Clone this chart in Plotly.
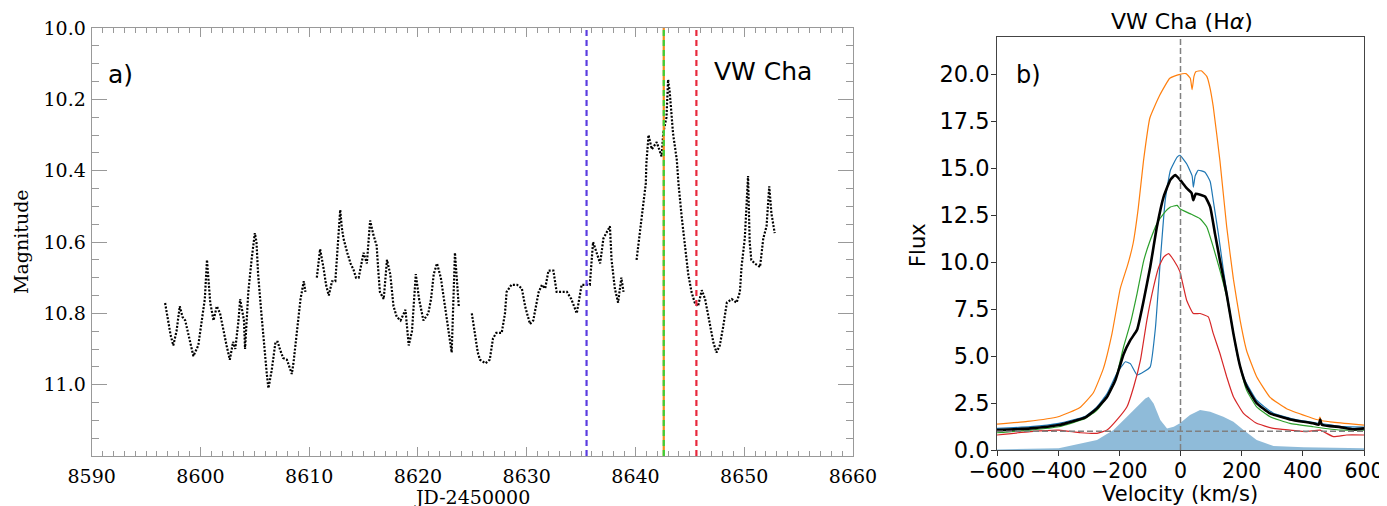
import plotly.graph_objects as go

# ---------------- Panel a) light curve (JD-2450000, magnitude); None = gap ----------------
jd = [8596.75, 8597.0, 8597.25, 8597.5, 8597.8, 8598.1, 8598.35, 8598.6, 8598.9, 8599.1,
      8599.35, 8599.8, 8600.1, 8600.4, 8600.6, 8600.75, 8600.9, 8601.2, 8601.5, 8601.8,
      8602.1, 8602.4, 8602.7, 8603.0, 8603.2, 8603.5, 8603.65, 8603.8, 8604.0, 8604.1,
      8604.25, 8604.4, 8604.7, 8605.0, 8605.15, 8605.3, 8605.6, 8605.95, 8606.1, 8606.25,
      8606.55, 8606.9, 8607.1, 8607.3, 8607.6, 8607.95, 8608.2, 8608.4, 8608.55, 8608.9,
      8609.2, 8609.5, 8609.65, None,
      8610.7, 8611.0, 8611.3, 8611.55, 8611.8, 8612.1, 8612.4, 8612.7, 8612.85, 8613.0,
      8613.15, 8613.5, 8613.8, 8614.1, 8614.3, 8614.55, 8614.8, 8615.0, 8615.3, 8615.6,
      8615.9, 8616.2, 8616.35, 8616.5, 8616.85, 8617.15, 8617.45, 8617.75, 8618.05, 8618.4,
      8618.85, 8619.15, 8619.45, 8619.8, 8620.1, 8620.5, 8620.95, 8621.2, 8621.45, 8621.75,
      8622.1, 8622.5, 8622.8, 8623.1, 8623.4, 8623.6, 8623.75, None,
      8624.95, 8625.25, 8625.5, 8625.7, 8626.2, 8626.6, 8626.9, 8627.2, 8627.7, 8628.0,
      8628.15, 8628.6, 8629.1, 8629.55, 8629.85, 8630.3, 8630.6, 8631.1, 8631.4, 8631.7,
      8632.0, 8632.45, 8632.75, 8633.2, 8633.7, 8634.1, 8634.6, 8635.05, 8635.5, 8635.8,
      8636.1, 8636.4, 8636.75, 8637.05, 8637.5, 8637.65, 8637.8, 8638.1, 8638.4, 8638.7,
      8638.9, None,
      8640.1, 8640.4, 8640.7, 8640.95, 8641.0, 8641.2, 8641.5, 8641.95, 8642.4, 8642.55,
      8642.85, 8643.0, 8643.15, 8643.45, 8643.8, 8643.95, 8644.25, 8644.55, 8644.85, 8645.15,
      8645.45, 8645.75, 8646.1, 8646.4, 8646.85, 8647.15, 8647.45, 8647.75, 8648.05, 8648.4,
      8648.85, 8649.3, 8649.6, 8649.75, 8650.05, 8650.35, 8650.5, 8650.65, 8650.95, 8651.45,
      8651.75, 8652.05, 8652.3, 8652.5, 8652.8]
mag = [10.771, 10.82, 10.86, 10.89, 10.85, 10.78, 10.81, 10.82, 10.86, 10.89,
       10.92, 10.89, 10.83, 10.76, 10.65, 10.72, 10.77, 10.82, 10.78, 10.80,
       10.85, 10.89, 10.93, 10.88, 10.90, 10.82, 10.76, 10.79, 10.82, 10.90,
       10.82, 10.74, 10.65, 10.575, 10.60, 10.69, 10.80, 10.93, 10.97, 11.01,
       10.96, 10.88, 10.88, 10.90, 10.925, 10.93, 10.95, 10.97, 10.94, 10.85,
       10.76, 10.71, 10.74, None,
       10.70, 10.62, 10.67, 10.72, 10.75, 10.71, 10.71, 10.585, 10.51, 10.56,
       10.59, 10.63, 10.66, 10.68, 10.70, 10.70, 10.66, 10.63, 10.66, 10.54,
       10.58, 10.61, 10.68, 10.74, 10.76, 10.65, 10.69, 10.78, 10.81, 10.82,
       10.79, 10.89, 10.85, 10.69, 10.76, 10.82, 10.80, 10.76, 10.69, 10.66,
       10.70, 10.78, 10.85, 10.91, 10.63, 10.71, 10.78, None,
       10.80, 10.855, 10.91, 10.93, 10.94, 10.93, 10.87, 10.855, 10.855, 10.80,
       10.74, 10.72, 10.72, 10.73, 10.78, 10.83, 10.82, 10.74, 10.72, 10.73,
       10.68, 10.68, 10.74, 10.74, 10.74, 10.76, 10.80, 10.72, 10.72, 10.72,
       10.60, 10.63, 10.66, 10.59, 10.565, 10.556, 10.65, 10.73, 10.77, 10.70,
       10.74, None,
       10.65, 10.575, 10.50, 10.435, 10.38, 10.30, 10.34, 10.32, 10.36, 10.295,
       10.25, 10.145, 10.18, 10.295, 10.37, 10.435, 10.53, 10.61, 10.69, 10.74,
       10.77, 10.78, 10.735, 10.76, 10.83, 10.88, 10.91, 10.89, 10.84, 10.77,
       10.76, 10.77, 10.74, 10.67, 10.59, 10.415, 10.60, 10.65, 10.66, 10.67,
       10.59, 10.556, 10.444, 10.52, 10.575]

# epochs of the spectra (vertical dashed lines)
spec_dates = [8635.5, 8642.6, 8642.6, 8645.6]
spec_colors = ["#5a3de0", "#f08c1e", "#3ad13a", "#e8283c"]
spec_dash = ["6px,4px", "solid", "6px,4px", "6px,4px"]

x_ticks_a = [8590, 8600, 8610, 8620, 8630, 8640, 8650, 8660]
y_ticks_a = [10.0, 10.2, 10.4, 10.6, 10.8, 11.0]

# ---------------- Panel b) H-alpha profiles ----------------
v_orange = [-600, -500, -400, -330, -285, -252, -224, -197, -172, -155, -138, -121, -100, -68, -35, -5,
            18, 32, 38, 44, 50, 68, 86, 95, 107, 129, 151, 173, 195, 216, 249, 293, 347, 413, 452, 456, 460, 489, 565, 600]
f_orange = [1.38, 1.52, 1.77, 2.25, 3.05, 4.35, 6.2, 8.6, 9.9, 11.0, 12.9, 15.4, 17.7, 18.9, 19.8, 20.0,
            20.05, 19.8, 19.2, 19.9, 20.15, 20.2, 19.9, 19.4, 18.3, 15.4, 11.9, 9.1, 6.9, 5.3, 3.9, 2.8, 2.2, 1.8, 1.6, 1.75, 1.58, 1.5, 1.38, 1.33]

v_blue = [-600, -491, -398, -311, -273, -240, -208, -180, -164, -142, -120, -99, -82, -66, -50, -33, -11, -2,
          20, 38, 42, 48, 58, 80, 97, 107, 124, 140, 157, 173, 189, 211, 249, 304, 380, 456, 532, 600]
f_blue = [1.15, 1.24, 1.42, 1.8, 2.3, 3.0, 4.08, 4.7, 4.6, 4.0, 4.17, 4.43, 6.5, 10.1, 13.3, 14.9, 15.6, 15.7,
          15.25, 14.6, 14.0, 14.6, 14.9, 14.8, 14.3, 13.3, 11.5, 9.6, 7.8, 6.2, 4.8, 3.7, 2.65, 1.95, 1.6, 1.42, 1.24, 1.22]

v_green = [-600, -491, -398, -311, -273, -240, -213, -186, -164, -142, -120, -99, -77, -55, -33, -11, -2,
           31, 64, 86, 107, 129, 151, 173, 195, 216, 249, 293, 358, 434, 522, 600]
f_green = [0.92, 1.06, 1.24, 1.68, 2.13, 2.84, 3.72, 5.5, 6.74, 8.33, 10.1, 11.17, 12.06, 12.59, 12.94, 13.03, 12.85,
           12.59, 12.32, 11.88, 10.82, 9.57, 8.16, 6.21, 4.43, 3.19, 2.3, 1.77, 1.42, 1.24, 1.06, 1.06]

v_red = [-600, -491, -398, -327, -273, -240, -208, -175, -153, -131, -110, -88, -71, -55, -39, -22, -2,
         20, 42, 64, 91, 107, 129, 151, 173, 206, 249, 304, 358, 413, 456, 500, 543, 600]
f_red = [0.80, 0.98, 1.06, 0.92, 0.89, 1.06, 1.6, 2.3, 3.37, 4.79, 6.91, 8.69, 9.75, 10.28, 10.46, 10.11, 9.5,
         7.98, 7.27, 7.27, 7.09, 6.21, 5.14, 3.9, 2.84, 1.95, 1.42, 1.15, 1.06, 0.98, 1.06, 0.71, 0.8, 0.8]

v_black = [-600, -491, -398, -311, -273, -240, -213, -186, -164, -142, -120, -99, -77, -55, -33, -17, -2,
           20, 36, 42, 50, 80, 97, 113, 129, 151, 173, 195, 216, 249, 293, 358, 434, 452, 457, 462, 522, 565, 600]
f_black = [1.06, 1.15, 1.33, 1.74, 2.22, 2.84, 3.72, 5.1, 5.85, 6.4, 8.0, 9.75, 11.9, 13.5, 14.4, 14.65, 14.4,
           13.95, 13.7, 13.3, 13.65, 13.5, 12.95, 11.5, 10.1, 8.3, 6.2, 4.45, 3.4, 2.5, 1.95, 1.63, 1.42, 1.35, 1.62, 1.35, 1.22, 1.1, 1.15]

v_fill = [-600, -398, -273, -219, -175, -142, -115, -104, -88, -66, -44, -22, -2, 31, 64, 97, 140, 173, 206, 249, 304, 402, 600]
f_fill = [0.03, 0.09, 0.53, 1.06, 1.77, 2.3, 2.75, 2.84, 2.48, 1.6, 1.15, 1.24, 1.42, 1.86, 2.13, 2.04, 1.77, 1.51, 1.06, 0.53, 0.21, 0.14, 0.09]

x_ticks_b = [-600, -400, -200, 0, 200, 400, 600]
y_ticks_b = [0.0, 2.5, 5.0, 7.5, 10.0, 12.5, 15.0, 17.5, 20.0]
continuum_level = 1.0
rest_velocity = 0.0

W, H = 1387, 506
OFF = 8  # the page body adds an 8px margin; compensate so positions match the window
SERIF = "DejaVu Serif"
SANS = "DejaVu Sans"

fig = go.Figure()

# light curve drawn as a dense dotted trace
fig.add_trace(go.Scatter(x=jd, y=mag, mode="lines", connectgaps=False,
                         line=dict(color="black", width=2.2, dash="2px,1.6px"),
                         xaxis="x", yaxis="y", hoverinfo="skip"))

# spectra
fig.add_trace(go.Scatter(x=v_fill, y=f_fill, mode="lines", fill="tozeroy",
                         fillcolor="rgba(31,119,180,0.5)", line=dict(width=0, color="rgba(31,119,180,0.5)"),
                         xaxis="x2", yaxis="y2"))
for vv, ff, col, w in [(v_orange, f_orange, "#ff7f0e", 1.2),
                       (v_blue, f_blue, "#1f77b4", 1.2),
                       (v_green, f_green, "#2ca02c", 1.2),
                       (v_red, f_red, "#d62728", 1.2),
                       (v_black, f_black, "black", 2.6)]:
    fig.add_trace(go.Scatter(x=vv, y=ff, mode="lines",
                             line=dict(color=col, width=w, shape="spline", smoothing=0.4),
                             xaxis="x2", yaxis="y2"))

shapes = []
for d, c, ds in zip(spec_dates, spec_colors, spec_dash):
    shapes.append(dict(type="line", xref="x", yref="y domain", x0=d, x1=d, y0=0, y1=1,
                       line=dict(color=c, width=2.2, dash=ds), layer="above"))
shapes.append(dict(type="line", xref="x2", yref="y2 domain", x0=rest_velocity, x1=rest_velocity, y0=0, y1=1,
                   line=dict(color="#808080", width=1.5, dash="6px,3px"), layer="above"))
shapes.append(dict(type="line", xref="x2 domain", yref="y2", x0=0, x1=1, y0=continuum_level, y1=continuum_level,
                   line=dict(color="#808080", width=1.5, dash="6px,3px"), layer="above"))


def px(x):
    return (x - OFF) / W


def py(y):
    return 1 - (y - OFF) / H


annotations = [
    dict(text="JD-2450000", x=px(472), y=py(497), xref="paper", yref="paper", showarrow=False,
         font=dict(family=SERIF, size=19, color="black"), xanchor="center", yanchor="middle"),
    dict(text="Magnitude", x=px(21), y=py(242), xref="paper", yref="paper", showarrow=False, textangle=-90,
         font=dict(family=SERIF, size=19, color="black"), xanchor="center", yanchor="middle"),
    dict(text="a)", x=px(106), y=py(74), xref="paper", yref="paper", showarrow=False,
         font=dict(family=SANS, size=25, color="black"), xanchor="left", yanchor="middle"),
    dict(text="VW Cha", x=px(712), y=py(72), xref="paper", yref="paper", showarrow=False,
         font=dict(family=SANS, size=25, color="black"), xanchor="left", yanchor="middle"),
    dict(text="b)", x=px(1014), y=py(75), xref="paper", yref="paper", showarrow=False,
         font=dict(family=SANS, size=24, color="black"), xanchor="left", yanchor="middle"),
    dict(text="VW Cha (H<i>α</i>)", x=px(1182), y=py(22), xref="paper", yref="paper", showarrow=False,
         font=dict(family=SANS, size=22, color="black"), xanchor="center", yanchor="middle"),
    dict(text="Flux", x=px(918), y=py(245), xref="paper", yref="paper", showarrow=False, textangle=-90,
         font=dict(family=SANS, size=21, color="black"), xanchor="center", yanchor="middle"),
    dict(text="Velocity (km/s)", x=px(1180), y=py(494), xref="paper", yref="paper", showarrow=False,
         font=dict(family=SANS, size=21, color="black"), xanchor="center", yanchor="middle"),
]

fig.update_layout(
    width=W, height=H, margin=dict(l=0, r=0, t=0, b=0, autoexpand=False),
    paper_bgcolor="white", plot_bgcolor="white", showlegend=False,
    shapes=shapes, annotations=annotations,
    xaxis=dict(domain=[px(91.7), px(853)], range=[8590, 8660], tickvals=x_ticks_a,
               ticks="inside", ticklen=9, tickwidth=1, tickcolor="#999",
               minor=dict(dtick=1, tick0=8590, ticks="inside", ticklen=5, tickwidth=1, tickcolor="#999"),
               showline=True, linecolor="#999", linewidth=1.2, mirror="ticks",
               showgrid=False, zeroline=False, anchor="y", ticklabelstandoff=3, automargin=False,
               tickfont=dict(family=SERIF, size=19, color="black")),
    yaxis=dict(domain=[py(456), py(28)], range=[11.2, 10.0], tickvals=y_ticks_a, tickformat=".1f",
               ticks="inside", ticklen=15, tickwidth=1, tickcolor="#999",
               minor=dict(dtick=0.05, tick0=10.0, ticks="inside", ticklen=7, tickwidth=1, tickcolor="#999"),
               showline=True, linecolor="#999", linewidth=1.2, mirror="ticks",
               showgrid=False, zeroline=False, anchor="x", ticklabelstandoff=1, automargin=False,
               tickfont=dict(family=SERIF, size=19, color="black")),
    xaxis2=dict(domain=[px(997), px(1364)], range=[-600, 600], tickvals=x_ticks_b, tickangle=0,
                ticks="outside", ticklen=5, tickwidth=1, tickcolor="#333",
                showline=True, linecolor="#444", linewidth=1, mirror=True,
                showgrid=False, zeroline=False, anchor="y2", automargin=False, ticklabelstandoff=-3,
                tickfont=dict(family=SANS, size=20.5, color="black")),
    yaxis2=dict(domain=[py(450), py(37)], range=[0, 22], tickvals=y_ticks_b, tickformat=".1f",
                ticks="outside", ticklen=5, tickwidth=1, tickcolor="#333",
                showline=True, linecolor="#444", linewidth=1, mirror=True,
                showgrid=False, zeroline=False, anchor="x2", automargin=False, ticklabelstandoff=-3,
                tickfont=dict(family=SANS, size=22.5, color="black")),
)

fig.write_html("out.html")
